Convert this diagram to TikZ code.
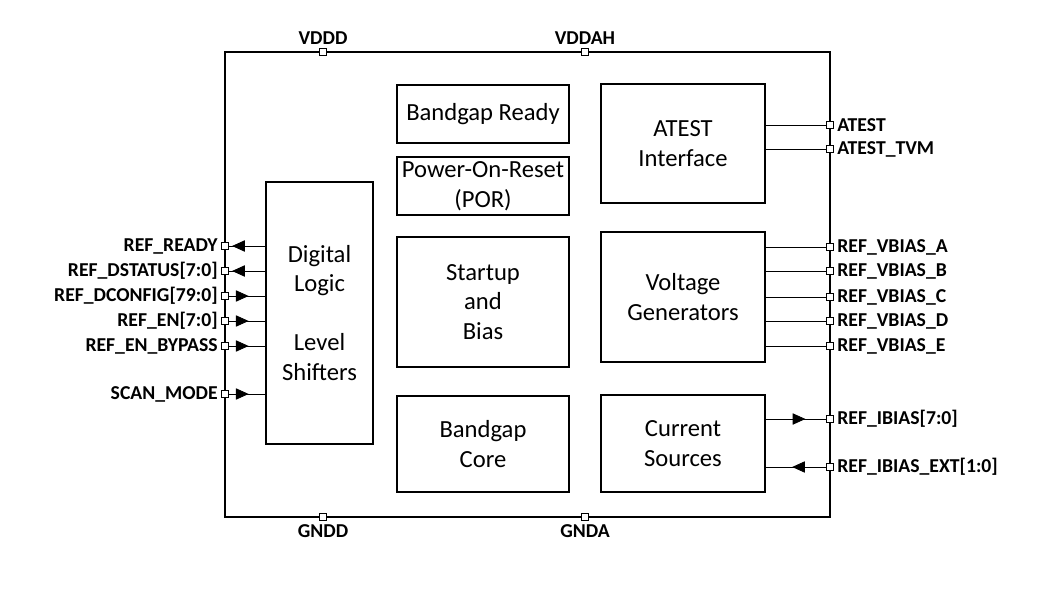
\documentclass[tikz,border=0pt]{standalone}
\usepackage{fontspec}
\setmainfont{Carlito}
\usetikzlibrary{arrows.meta,decorations.markings}

\begin{document}
\begin{tikzpicture}[
    x=0.025cm, y=-0.025cm,
    chip/.style={rectangle, draw, line width=1.4pt, minimum width=15.125cm, minimum height=11.625cm},
    blk/.style={rectangle, draw, line width=1.1pt, align=center, font=\fontsize{17.5}{21}\selectfont},
    pin/.style={rectangle, draw, fill=white, line width=0.6pt, minimum size=0.19cm, inner sep=0pt},
    lbl/.style={font=\bfseries\fontsize{14}{16}\selectfont, inner sep=2pt},
    wire/.style={line width=0.6pt},
    flow/.style={wire, postaction={decorate}, decoration={markings, mark=at position #1 with {\arrow{Triangle[length=9pt, width=8pt]}}}}
]
    \useasboundingbox (0,0) rectangle (1052,598);

    % outline
    \node [chip] (chip) at (527.5,284.5) {};

    % blocks
    \node [blk, minimum width=2.68cm, minimum height=6.55cm] (dig) at (319.5,313) {Digital\\Logic\\[21pt]Level\\Shifters};
    \node [blk, minimum width=4.3cm, minimum height=1.45cm] (bgready) at (483,114) {Bandgap Ready};
    \node [blk, minimum width=4.3cm, minimum height=1.45cm] (por) at (483,186) {Power-On-Reset\\(POR)};
    \node [blk, minimum width=4.3cm, minimum height=3.25cm] (startup) at (483,302) {Startup\\and\\Bias};
    \node [blk, minimum width=4.3cm, minimum height=2.4cm] (bgcore) at (483,444) {Bandgap\\Core};
    \node [blk, minimum width=4.1cm, minimum height=2.98cm] (atest) at (683,143.5) {ATEST\\Interface};
    \node [blk, minimum width=4.1cm, minimum height=3.25cm] (vgen) at (683,297) {Voltage\\Generators};
    \node [blk, minimum width=4.1cm, minimum height=2.43cm] (isrc) at (683,443.5) {Current\\Sources};

    % supply pins
    \node [pin, label={[lbl]above:VDDD}] (vddd) at (323,52) {};
    \node [pin, label={[lbl]above:VDDAH}] (vddah) at (585,52) {};
    \node [pin, label={[lbl]below:GNDD}] (gndd) at (323,517) {};
    \node [pin, label={[lbl]below:GNDA}] (gnda) at (585,517) {};

    % left pins
    \node [pin, label={[lbl]left:REF\_READY}] (ready) at (225,246) {};
    \node [pin, label={[lbl]left:REF\_DSTATUS[7:0]}] (dstatus) at (225,271) {};
    \node [pin, label={[lbl]left:REF\_DCONFIG[79:0]}] (dconfig) at (225,296) {};
    \node [pin, label={[lbl]left:REF\_EN[7:0]}] (en) at (225,321) {};
    \node [pin, label={[lbl]left:REF\_EN\_BYPASS}] (bypass) at (225,346) {};
    \node [pin, label={[lbl]left:SCAN\_MODE}] (scan) at (225,394) {};

    % right pins
    \node [pin, label={[lbl]right:ATEST}] (at) at (830,125) {};
    \node [pin, label={[lbl]right:ATEST\_TVM}] (attvm) at (830,149) {};
    \node [pin, label={[lbl]right:REF\_VBIAS\_A}] (vba) at (830,247) {};
    \node [pin, label={[lbl]right:REF\_VBIAS\_B}] (vbb) at (830,271) {};
    \node [pin, label={[lbl]right:REF\_VBIAS\_C}] (vbc) at (830,297) {};
    \node [pin, label={[lbl]right:REF\_VBIAS\_D}] (vbd) at (830,321) {};
    \node [pin, label={[lbl]right:REF\_VBIAS\_E}] (vbe) at (830,346) {};
    \node [pin, label={[lbl]right:REF\_IBIAS[7:0]}] (ibias) at (830,419) {};
    \node [pin, label={[lbl]right:REF\_IBIAS\_EXT[1:0]}] (ibext) at (830,467) {};

    % digital wires
    \draw [flow=0.92] (dig.west |- ready) -- (ready);
    \draw [flow=0.92] (dig.west |- dstatus) -- (dstatus);
    \draw [flow=0.54] (dconfig) -- (dig.west |- dconfig);
    \draw [flow=0.54] (en) -- (dig.west |- en);
    \draw [flow=0.54] (bypass) -- (dig.west |- bypass);
    \draw [flow=0.54] (scan) -- (dig.west |- scan);

    % analog wires
    \draw [wire] (atest.east |- at) -- (at);
    \draw [wire] (atest.east |- attvm) -- (attvm);
    \draw [wire] (vgen.east |- vba) -- (vba);
    \draw [wire] (vgen.east |- vbb) -- (vbb);
    \draw [wire] (vgen.east |- vbc) -- (vbc);
    \draw [wire] (vgen.east |- vbd) -- (vbd);
    \draw [wire] (vgen.east |- vbe) -- (vbe);
    \draw [flow=0.66] (isrc.east |- ibias) -- (ibias);
    \draw [flow=0.56] (ibext) -- (isrc.east |- ibext);
\end{tikzpicture}
\end{document}
